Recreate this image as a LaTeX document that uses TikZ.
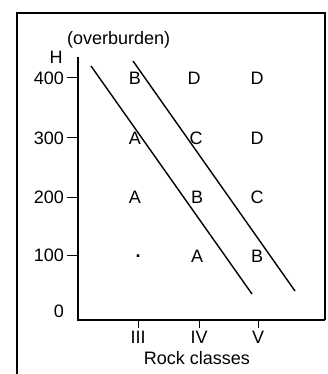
\documentclass[tikz,border=0pt]{standalone}
\usepackage{fontspec}
\setmainfont{Liberation Sans}
\begin{document}
\begin{tikzpicture}[x=1pt,y=-1pt,
  lbl/.style={inner sep=0pt,font=\fontsize{18}{18}\selectfont},
  frame/.style={line width=1.8pt},
  axis/.style={line width=1.6pt},
  diag/.style={line width=1.4pt}]
\useasboundingbox (0,0) rectangle (328,374);
% frame
\coordinate (f1) at (17,374);
\coordinate (f2) at (17,13);
\coordinate (f3) at (325,13);
\coordinate (f4) at (325,320);
\draw[frame] (f1) -- (f2) -- (f3) -- (f4);
% axes
\coordinate (ytop) at (78,57);
\coordinate (orig) at (78,320);
\coordinate (xend) at (325,320);
\draw[axis] (ytop) -- (orig) -- (xend);
% y ticks
\foreach \v/\y in {400/78,300/138,200/197,100/255}{
  \coordinate (yt\v) at (78,\y);
  \draw[line width=1pt] (yt\v) -- ++(-11,0);
  \node[lbl,anchor=east] (yl\v) at (64,\y) {\v};
}
\node[lbl,anchor=east] (yl0) at (64,311) {0};
\node[lbl,anchor=south] (H) at (56,64) {H};
\node[lbl,anchor=west] (ob) at (67,40) {(overburden)};
% x ticks
\foreach \n/\x/\t in {3/138/III,4/199/IV,5/258/V}{
  \coordinate (xt\n) at (\x,320);
  \draw[line width=1pt] (xt\n) -- ++(0,8);
  \node[lbl] (xl\n) at (\x,337) {\t};
}
\node[lbl] (rc) at (197,358) {Rock classes};
% grid letters
\node[lbl] (g43) at (135,78) {B};
\node[lbl] (g44) at (194,78) {D};
\node[lbl] (g45) at (257,78) {D};
\node[lbl] (g33) at (135,138) {A};
\node[lbl] (g34) at (196,138) {C};
\node[lbl] (g35) at (257,138) {D};
\node[lbl] (g23) at (135,197) {A};
\node[lbl] (g24) at (197,197) {B};
\node[lbl] (g25) at (257,197) {C};
\node[lbl] (g13) at (138,256) {\textbf{.}};
\node[lbl] (g14) at (197,256) {A};
\node[lbl] (g15) at (257,256) {B};
% diagonal lines
\coordinate (a1) at (91,66);
\coordinate (a2) at (252,294);
\coordinate (b1) at (133,61);
\coordinate (b2) at (295,291);
\draw[diag] (a1) -- (a2);
\draw[diag] (b1) -- (b2);
\end{tikzpicture}
\end{document}
